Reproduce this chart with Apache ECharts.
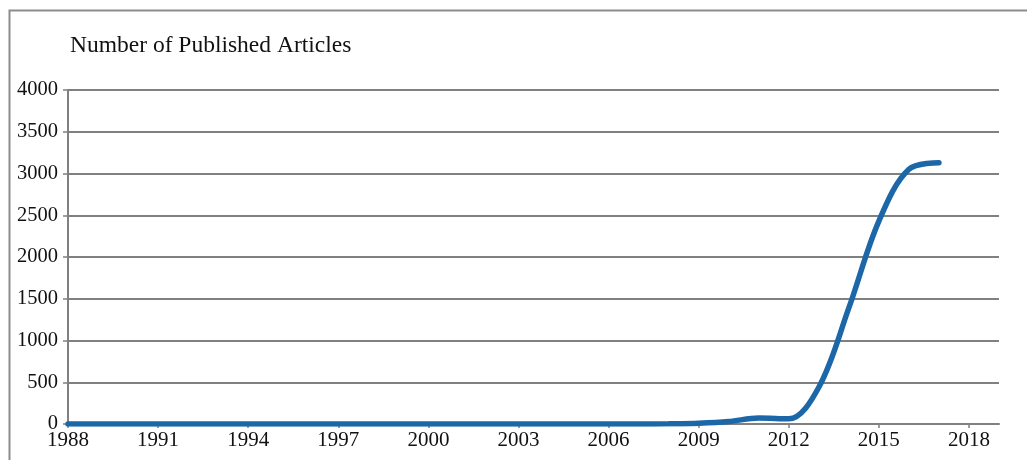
<!DOCTYPE html>
<html>
<head>
<meta charset="utf-8">
<script src="https://cdn.jsdelivr.net/npm/echarts@6/dist/echarts.min.js"></script>
<style>
html,body{margin:0;padding:0;background:#fff;}
#chart{width:1027px;height:460px;}
</style>
</head>
<body>
<div id="chart"></div>
<script>
const years = [1988,1989,1990,1991,1992,1993,1994,1995,1996,1997,1998,1999,2000,2001,2002,2003,2004,2005,2006,2007,2008,2009,2010,2011,2012,2013,2014,2015,2016,2017];
const articles = [0,0,0,0,0,0,0,0,0,0,0,0,0,0,0,0,0,0,0,0,3,10,30,72,62,440,1390,2430,3050,3130];
const titleText = 'Number of Published Articles';
const yTicks = [0,500,1000,1500,2000,2500,3000,3500,4000];
const xTickStep = 3;

const chart = echarts.init(document.getElementById('chart'), null, {renderer:'canvas'});
const serif = '"Liberation Serif","DejaVu Serif",serif';
chart.setOption({
  animation:false,
  backgroundColor:'#fff',
  graphic:[{
    type:'rect', z:-1,
    shape:{x:9.5,y:10.5,width:1040,height:480},
    style:{fill:'none',stroke:'#8c8c8c',lineWidth:2}
  }],
  title:{
    text:titleText, left:65, top:29,
    textStyle:{fontFamily:serif,fontSize:23.5,fontWeight:'normal',color:'#111'}
  },
  grid:{left:68,right:28,top:90,bottom:36,containLabel:false},
  xAxis:{
    type:'value', min:years[0], max:2019, interval:xTickStep,
    axisLine:{show:true,lineStyle:{color:'#808080',width:2}},
    axisTick:{show:true,length:4,lineStyle:{color:'#808080',width:1.5}},
    axisLabel:{fontFamily:serif,fontSize:21,color:'#111',margin:6,showMaxLabel:false,formatter:v=>String(v)},
    splitLine:{show:false}
  },
  yAxis:{
    type:'value', min:yTicks[0], max:yTicks[yTicks.length-1], interval:500,
    axisLine:{show:true,lineStyle:{color:'#808080',width:2}},
    axisTick:{show:true,length:5,lineStyle:{color:'#808080',width:1.5}},
    axisLabel:{fontFamily:serif,fontSize:20.5,color:'#111',margin:10,formatter:v=>String(v)},
    splitLine:{show:true,lineStyle:{color:'#808080',width:2}}
  },
  series:[{
    type:'line',
    data:years.map((y,i)=>[y,articles[i]]),
    smooth:0.35,
    showSymbol:false,
    symbol:'none',
    lineStyle:{color:'#1c67a8',width:5.5,cap:'round'},
    itemStyle:{color:'#1c67a8'}
  }]
});
</script>
</body>
</html>
